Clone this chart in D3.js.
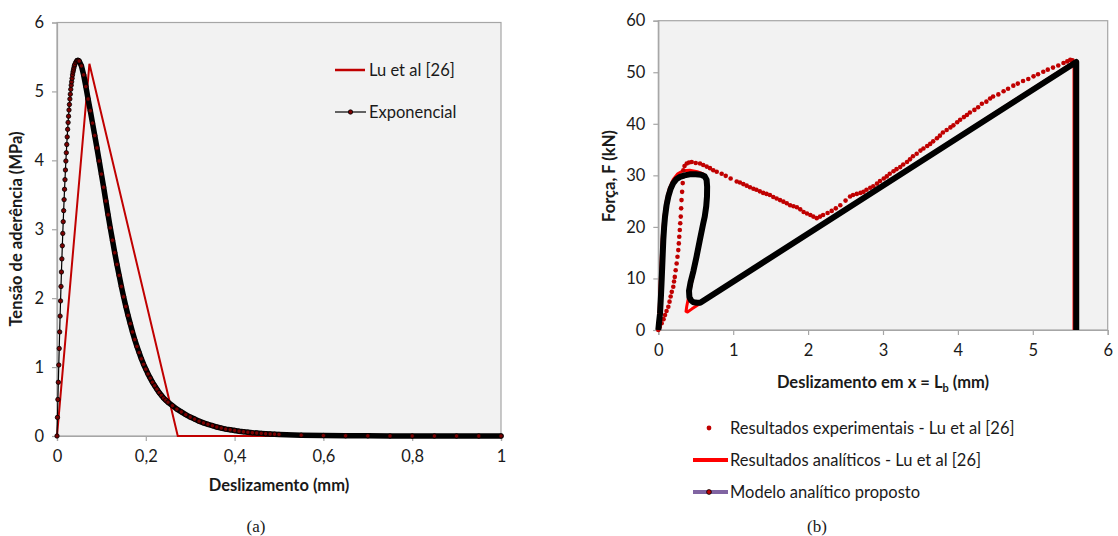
<!DOCTYPE html>
<html>
<head>
<meta charset="utf-8">
<script src="https://cdn.jsdelivr.net/npm/d3@7/dist/d3.min.js"></script>
<style>
  body { margin: 0; background: #fff; }
  svg { display: block; }
  text { font-family: Lato, "Open Sans", sans-serif; fill: #1a1a1a; }
</style>
</head>
<body>
<svg id="chart" width="1118" height="536"></svg>
<script>
// ---- (a) bond stress vs slip ----
var aXTicks = [0, 0.2, 0.4, 0.6, 0.8, 1];
var aXLabels = ["0", "0,2", "0,4", "0,6", "0,8", "1"];
var aYTicks = [0, 1, 2, 3, 4, 5, 6];
var aYLabels = ["0", "1", "2", "3", "4", "5", "6"];

var luBilinear = [[0, 0], [0.073, 5.4], [0.272, 0], [1, 0]];

// exponential law
var expRise = [[0,0],[0.001,0.27],[0.002,0.53],[0.003,0.78],[0.004,1.03],[0.005,1.27],[0.006,1.51],[0.007,1.74],
  [0.008,1.96],[0.009,2.17],[0.010,2.38],[0.011,2.57],[0.012,2.76],[0.013,2.94],[0.014,3.11],[0.015,3.27],
  [0.016,3.43],[0.017,3.58],[0.018,3.72],[0.019,3.86],[0.020,3.99],[0.021,4.11],[0.022,4.23],[0.023,4.34],
  [0.024,4.45],[0.025,4.55],[0.026,4.64],[0.027,4.73],[0.028,4.81],[0.029,4.89],[0.030,4.96],[0.031,5.03],
  [0.032,5.09],[0.033,5.14],[0.034,5.19],[0.035,5.24],[0.036,5.28],[0.037,5.31],[0.038,5.34],[0.039,5.37],
  [0.040,5.39],[0.042,5.42],[0.044,5.44]];
var expFall = [[0.046,5.45],[0.048,5.45],[0.050,5.44],[0.055,5.37],[0.060,5.24],[0.065,5.07],[0.070,4.89],
  [0.075,4.72],[0.080,4.54],[0.085,4.36],[0.090,4.18],[0.095,3.99],[0.100,3.80],[0.105,3.61],[0.110,3.41],
  [0.115,3.21],[0.120,3.02],[0.125,2.84],[0.130,2.66],[0.135,2.49],[0.140,2.33],[0.145,2.17],[0.150,2.02],
  [0.155,1.88],[0.160,1.75],[0.165,1.63],[0.170,1.51],[0.175,1.40],[0.180,1.30],[0.185,1.21],[0.190,1.12],
  [0.195,1.04],[0.200,0.97],[0.205,0.90],[0.210,0.84],[0.215,0.78],[0.220,0.73],[0.225,0.68],[0.230,0.63],
  [0.235,0.59],[0.240,0.55],[0.245,0.52],[0.250,0.49],[0.26,0.44],[0.27,0.39],[0.28,0.35],[0.29,0.31],
  [0.30,0.275],[0.31,0.245],[0.32,0.215],[0.33,0.19],[0.34,0.17],[0.35,0.15],[0.36,0.13],[0.37,0.115],
  [0.38,0.10],[0.39,0.09],[0.40,0.08],[0.41,0.07],[0.42,0.062],[0.43,0.055],[0.44,0.048],[0.45,0.043],
  [0.46,0.038],[0.47,0.033],[0.48,0.029],[0.49,0.026],[0.50,0.023],[0.55,0.012],[0.60,0.006],[0.65,0.003],
  [0.70,0.002],[0.75,0.001],[0.80,0],[0.85,0],[0.90,0],[0.95,0],[1.0,0]];

// ---- (b) force vs slip at x = Lb ----
var bXTicks = [0, 1, 2, 3, 4, 5, 6];
var bYTicks = [0, 10, 20, 30, 40, 50, 60];

var luExperimental = [[0,0],[0.02,0.6],[0.045,1.3],[0.07,2.1],[0.09,2.9],[0.11,3.7],[0.134,4.5],[0.15,5.5],
  [0.165,6.5],[0.18,7.4],[0.2,8.4],[0.21,9.4],[0.22,10.3],[0.232,11.6],[0.245,12.9],[0.256,14.2],[0.267,15.5],
  [0.274,16.8],[0.28,18.1],[0.287,19.4],[0.293,20.7],[0.30,22],[0.305,23.6],[0.31,25.2],[0.318,26.8],
  [0.326,28.5],[0.33,29.8],[0.334,31],[0.35,31.8],[0.38,32.3],[0.41,32.5],[0.446,32.6],[0.5,32.4],[0.557,32.3],
  [0.6,32.0],[0.646,31.7],[0.69,31.4],[0.734,31.0],[0.78,30.7],[0.846,30.3],[0.90,29.9],[0.966,29.4],
  [1.047,28.8],[1.09,28.6],[1.135,28.3],[1.18,28.0],[1.224,27.7],[1.27,27.4],[1.31,27.2],[1.355,26.9],
  [1.40,26.6],[1.445,26.4],[1.49,26.2],[1.535,25.8],[1.58,25.5],[1.625,25.2],[1.67,24.9],[1.715,24.6],
  [1.76,24.2],[1.805,24.0],[1.85,23.8],[1.895,23.4],[1.94,22.9],[1.985,22.6],[2.03,22.3],[2.07,22.0],
  [2.115,21.7],[2.16,22.0],[2.20,22.3],[2.26,22.7],[2.315,23.1],[2.37,23.6],[2.43,24.2],[2.5,25.1],
  [2.56,25.9],[2.6,26.2],[2.65,26.4],[2.70,26.6],[2.74,26.8],[2.78,27.2],[2.83,27.6],[2.87,27.9],[2.92,28.4],
  [2.96,28.9],[3.01,29.4],[3.05,29.8],[3.09,30.3],[3.14,30.8],[3.18,31.2],[3.23,31.6],[3.27,32.1],[3.32,32.6],
  [3.36,33.1],[3.40,33.7],[3.45,34.2],[3.50,34.8],[3.54,35.2],[3.59,35.7],[3.63,36.1],[3.67,36.6],[3.72,37.2],
  [3.76,37.7],[3.80,38.3],[3.85,38.8],[3.90,39.3],[3.94,39.7],[3.99,40.3],[4.03,40.8],[4.08,41.3],[4.12,41.7],
  [4.16,42.2],[4.22,42.7],[4.27,43.2],[4.32,43.9],[4.38,44.3],[4.43,44.9],[4.47,45.3],[4.54,45.7],[4.61,46.3],
  [4.67,46.8],[4.74,47.4],[4.80,47.8],[4.87,48.3],[4.94,48.7],[5.01,49.2],[5.07,49.6],[5.14,50.1],[5.20,50.5],
  [5.27,50.9],[5.34,51.3],[5.41,51.8],[5.46,52.1],[5.50,52.4],[5.53,52.3]];

var luAnalytical = [[0,0],[0.012,4],[0.025,9],[0.04,14],[0.055,18.5],[0.075,22],[0.105,25],[0.145,27.4],[0.2,29.2],
  [0.26,30.3],[0.33,30.9],[0.42,31],[0.52,30.7],[0.6,30.3],[0.64,29.5],[0.655,27.5],[0.65,25.5],[0.62,22],
  [0.57,18],[0.51,13.5],[0.45,9.5],[0.41,6.8],[0.38,4.6],[0.37,3.6],[0.39,3.5],[0.45,4.1],[5.55,52],[5.55,0]];

var proposedModel = [[0,0],[0.01,1.5],[0.023,3.2],[0.035,6.5],[0.045,9.7],[0.056,13.6],[0.067,17.5],[0.078,20],
  [0.09,22],[0.11,24.2],[0.134,25.9],[0.165,27.4],[0.2,28.5],[0.245,29.3],[0.29,29.7],[0.35,30.0],[0.42,30.2],
  [0.5,30.2],[0.57,30.1],[0.62,29.8],[0.645,29.1],[0.652,27.8],[0.65,25.9],[0.64,24],[0.62,22],[0.6,20.7],
  [0.555,17.5],[0.51,14.2],[0.47,11.5],[0.43,9.2],[0.41,7.6],[0.415,6.4],[0.44,5.7],[0.47,5.4],[0.52,5.3],
  [0.56,5.3],[5.58,52],[5.58,0]];

var svg = d3.select("#chart");
var gridGrey = "#a6a6a6";

function frame(x, y, xTicks, xLabels, yTicks, yLabels) {
    var g = svg.append("g");
    g.append("rect")
      .attr("x", x.range()[0]).attr("y", y.range()[1])
      .attr("width", x.range()[1] - x.range()[0])
      .attr("height", y.range()[0] - y.range()[1])
      .attr("fill", "#f2f2f2").attr("stroke", gridGrey).attr("stroke-width", 1.2);

    var ax = g.append("g").attr("transform", `translate(0,${y.range()[0]})`)
      .call(d3.axisBottom(x).tickValues(xTicks).tickSize(5).tickPadding(9)
        .tickFormat((d, i) => xLabels[i]));
    var ay = g.append("g").attr("transform", `translate(${x.range()[0]},0)`)
      .call(d3.axisLeft(y).tickValues(yTicks).tickSize(5).tickPadding(8)
        .tickFormat((d, i) => yLabels[i]));
    [ax, ay].forEach(a => {
        a.select(".domain").attr("stroke", gridGrey).attr("stroke-width", 1.2);
        a.selectAll(".tick line").attr("stroke", gridGrey).attr("stroke-width", 1.2);
        a.selectAll(".tick text").style("font-size", "16.5px").style("font-family", "Lato, sans-serif").attr("fill", "#1a1a1a");
    });
    return g;
}

// ---------- chart (a) ----------
var xa = d3.scaleLinear().domain([0, 1]).range([57, 501]);
var ya = d3.scaleLinear().domain([0, 6]).range([436, 22.5]);
frame(xa, ya, aXTicks, aXLabels, aYTicks, aYLabels);

var lineA = d3.line().x(d => xa(d[0])).y(d => ya(d[1]));
var expAll = expRise.concat(expFall);

svg.append("path").attr("d", lineA(luBilinear))
  .attr("fill", "none").attr("stroke", "#c00000").attr("stroke-width", 2);

svg.append("path").attr("d", lineA(expAll))
  .attr("fill", "none").attr("stroke", "#000").attr("stroke-width", 1.2);
svg.append("path").attr("d", lineA(expFall))
  .attr("fill", "none").attr("stroke", "#000").attr("stroke-width", 5.5)
  .attr("stroke-linejoin", "round").attr("stroke-linecap", "round");
svg.append("g").selectAll("circle").data(expAll).join("circle")
  .attr("cx", d => xa(d[0])).attr("cy", d => ya(d[1])).attr("r", 2.2)
  .attr("fill", "#7a0000").attr("stroke", "#000").attr("stroke-width", 0.8);

// legend (a)
var legA = svg.append("g");
legA.append("line").attr("x1", 335).attr("x2", 365).attr("y1", 70).attr("y2", 70)
  .attr("stroke", "#c00000").attr("stroke-width", 2.5);
legA.append("text").attr("x", 369).attr("y", 76).style("font-size", "16.5px").text("Lu et al [26]");
legA.append("line").attr("x1", 335).attr("x2", 366).attr("y1", 112).attr("y2", 112)
  .attr("stroke", "#000").attr("stroke-width", 1.2);
legA.append("circle").attr("cx", 350.5).attr("cy", 112).attr("r", 2.2)
  .attr("fill", "#7a0000").attr("stroke", "#000").attr("stroke-width", 0.8);
legA.append("text").attr("x", 369).attr("y", 118).style("font-size", "16.5px").text("Exponencial");

svg.append("text").attr("transform", "translate(22,229) rotate(-90)")
  .attr("text-anchor", "middle").style("font-size", "16.5px").style("font-weight", "bold")
  .text("Tensão de aderência (MPa)");
svg.append("text").attr("x", 279).attr("y", 491)
  .attr("text-anchor", "middle").style("font-size", "16.5px").style("font-weight", "bold")
  .text("Deslizamento (mm)");
svg.append("text").attr("x", 256).attr("y", 532).attr("text-anchor", "middle")
  .style("font-family", "'Liberation Serif', 'DejaVu Serif', serif").style("font-size", "17px")
  .text("(a)");

// ---------- chart (b) ----------
var xb = d3.scaleLinear().domain([0, 6]).range([658.3, 1107.7]);
var yb = d3.scaleLinear().domain([0, 60]).range([330, 20.7]);
frame(xb, yb, bXTicks, bXTicks.map(String), bYTicks, bYTicks.map(String));

var lineB = d3.line().x(d => xb(d[0])).y(d => yb(d[1]));

svg.append("path").attr("d", lineB(luAnalytical))
  .attr("fill", "none").attr("stroke", "#ff0000").attr("stroke-width", 3)
  .attr("stroke-linejoin", "round");
svg.append("g").selectAll("circle").data(luExperimental).join("circle")
  .attr("cx", d => xb(d[0])).attr("cy", d => yb(d[1])).attr("r", 2.3)
  .attr("fill", "#c00000");
svg.append("path").attr("d", lineB(proposedModel))
  .attr("fill", "none").attr("stroke", "#000").attr("stroke-width", 6)
  .attr("stroke-linejoin", "round");

// legend (b)
var legB = svg.append("g");
legB.append("circle").attr("cx", 709).attr("cy", 428).attr("r", 2.4).attr("fill", "#c00000");
legB.append("text").attr("x", 730).attr("y", 434).style("font-size", "16.5px")
  .text("Resultados experimentais - Lu et al [26]");
legB.append("line").attr("x1", 693).attr("x2", 728).attr("y1", 460).attr("y2", 460)
  .attr("stroke", "#ff0000").attr("stroke-width", 4);
legB.append("text").attr("x", 730).attr("y", 466).style("font-size", "16.5px")
  .text("Resultados analíticos - Lu et al [26]");
legB.append("line").attr("x1", 693).attr("x2", 728).attr("y1", 492).attr("y2", 492)
  .attr("stroke", "#8064a2").attr("stroke-width", 4);
legB.append("circle").attr("cx", 709).attr("cy", 492).attr("r", 2.4)
  .attr("fill", "#c00000").attr("stroke", "#000").attr("stroke-width", 0.8);
legB.append("text").attr("x", 730).attr("y", 498).style("font-size", "16.5px")
  .text("Modelo analítico proposto");

svg.append("text").attr("transform", "translate(615,176) rotate(-90)")
  .attr("text-anchor", "middle").style("font-size", "16.5px").style("font-weight", "bold")
  .text("Força, F (kN)");
var xt = svg.append("text").attr("x", 883).attr("y", 388)
  .attr("text-anchor", "middle").style("font-size", "16.5px").style("font-weight", "bold");
xt.append("tspan").text("Deslizamento em x = L");
xt.append("tspan").attr("dy", 4).style("font-size", "11px").text("b");
xt.append("tspan").attr("dy", -4).text(" (mm)");
svg.append("text").attr("x", 817).attr("y", 532).attr("text-anchor", "middle")
  .style("font-family", "'Liberation Serif', 'DejaVu Serif', serif").style("font-size", "17px")
  .text("(b)");
</script>
</body>
</html>
